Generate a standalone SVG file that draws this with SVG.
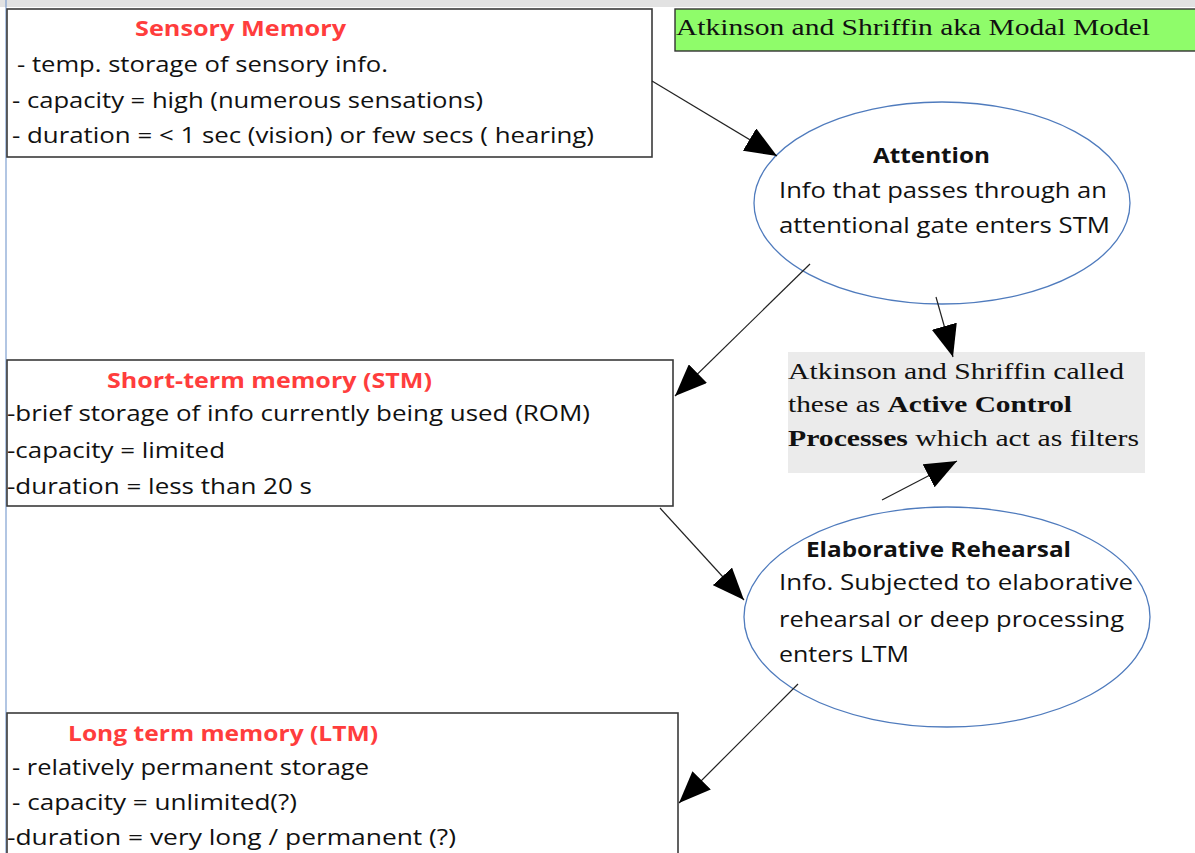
<svg xmlns="http://www.w3.org/2000/svg" width="1195" height="853" viewBox="0 0 1195 853">
<style>
.box{fill:#fff;stroke:#3a3a3a;stroke-width:1.6}
.ell{fill:#fff;stroke:#4f7bbd;stroke-width:1.3}
.t{font-family:"Open Sans","Liberation Sans",sans-serif;font-size:21px;fill:#111}
.h{font-family:"Open Sans","Liberation Sans",sans-serif;font-size:21px;font-weight:bold;fill:#ff3d3d}
.hb{font-family:"Open Sans","Liberation Sans",sans-serif;font-size:21px;font-weight:bold;fill:#111}
.s{font-family:"Liberation Serif",serif;font-size:24px;fill:#111}
.c{stroke:#222;stroke-width:1.2;fill:none}
</style>
<defs>
<marker id="ah" markerUnits="userSpaceOnUse" markerWidth="34" markerHeight="26" refX="32" refY="13" orient="auto">
<path d="M0,0 L32,13 L0,26 Z" fill="#000"/>
</marker>
</defs>
<rect x="0" y="0" width="1195" height="853" fill="#fff"/>
<rect x="0" y="0" width="1195" height="7" fill="#e2e2e2"/>
<line x1="6" y1="0" x2="6" y2="853" stroke="#7fa0d0" stroke-width="1.2"/>

<g id="sensory">
<rect class="box" x="7" y="9" width="645" height="148"/>
<text class="h" x="135" y="36" textLength="211" lengthAdjust="spacingAndGlyphs">Sensory Memory</text>
<text class="t" x="17" y="72" textLength="371" lengthAdjust="spacingAndGlyphs">- temp. storage of sensory info.</text>
<text class="t" x="12" y="108" textLength="471" lengthAdjust="spacingAndGlyphs">- capacity = high (numerous sensations)</text>
<text class="t" x="12" y="143" textLength="582" lengthAdjust="spacingAndGlyphs">- duration = &lt; 1 sec (vision) or few secs ( hearing)</text>
</g>

<g id="title">
<rect x="675" y="9" width="525" height="42" fill="#8ffc6a" stroke="#333" stroke-width="1.4"/>
<text class="s" x="676" y="35" textLength="474" lengthAdjust="spacingAndGlyphs">Atkinson and Shriffin aka Modal Model</text>
</g>

<g id="attention">
<ellipse class="ell" cx="942" cy="203" rx="188" ry="101"/>
<text class="hb" x="873" y="163" textLength="117" lengthAdjust="spacingAndGlyphs">Attention</text>
<text class="t" x="779" y="198" textLength="328" lengthAdjust="spacingAndGlyphs">Info that passes through an</text>
<text class="t" x="779" y="233" textLength="331" lengthAdjust="spacingAndGlyphs">attentional gate enters STM</text>
</g>

<g id="stm">
<rect class="box" x="7" y="360" width="666" height="146"/>
<text class="h" x="107" y="388" textLength="325" lengthAdjust="spacingAndGlyphs">Short-term memory (STM)</text>
<text class="t" x="7" y="421" textLength="583" lengthAdjust="spacingAndGlyphs">-brief storage of info currently being used (ROM)</text>
<text class="t" x="7" y="458" textLength="218" lengthAdjust="spacingAndGlyphs">-capacity = limited</text>
<text class="t" x="7" y="494" textLength="305" lengthAdjust="spacingAndGlyphs">-duration = less than 20 s</text>
</g>

<g id="acp">
<rect x="788" y="352" width="357" height="121" fill="#ebebeb"/>
<text class="s" x="788" y="379" textLength="336" lengthAdjust="spacingAndGlyphs">Atkinson and Shriffin called</text>
<text class="s" x="788" y="412" textLength="284" lengthAdjust="spacingAndGlyphs">these as <tspan font-weight="bold">Active Control</tspan></text>
<text class="s" x="788" y="446" textLength="351" lengthAdjust="spacingAndGlyphs"><tspan font-weight="bold">Processes</tspan> which act as filters</text>
</g>

<g id="elaborative">
<ellipse class="ell" cx="947" cy="617" rx="203" ry="110"/>
<text class="hb" x="806" y="557" textLength="265" lengthAdjust="spacingAndGlyphs">Elaborative Rehearsal</text>
<text class="t" x="779" y="590" textLength="354" lengthAdjust="spacingAndGlyphs">Info. Subjected to elaborative</text>
<text class="t" x="779" y="627" textLength="345" lengthAdjust="spacingAndGlyphs">rehearsal or deep processing</text>
<text class="t" x="779" y="662" textLength="130" lengthAdjust="spacingAndGlyphs">enters LTM</text>
</g>

<g id="ltm">
<rect class="box" x="7" y="713" width="671" height="150"/>
<text class="h" x="68" y="741" textLength="310" lengthAdjust="spacingAndGlyphs">Long term memory (LTM)</text>
<text class="t" x="12" y="775" textLength="357" lengthAdjust="spacingAndGlyphs">- relatively permanent storage</text>
<text class="t" x="12" y="810" textLength="285" lengthAdjust="spacingAndGlyphs">- capacity = unlimited(?)</text>
<text class="t" x="7" y="845" textLength="449" lengthAdjust="spacingAndGlyphs">-duration = very long / permanent (?)</text>
</g>

<g id="connectors">
<line class="c" x1="652" y1="81" x2="777" y2="156" marker-end="url(#ah)"/>
<line class="c" x1="810" y1="264" x2="675" y2="396" marker-end="url(#ah)"/>
<line class="c" x1="936" y1="297" x2="953" y2="357" marker-end="url(#ah)"/>
<line class="c" x1="882" y1="500" x2="957" y2="461" marker-end="url(#ah)"/>
<line class="c" x1="660" y1="508" x2="744" y2="600" marker-end="url(#ah)"/>
<line class="c" x1="798" y1="684" x2="679" y2="803" marker-end="url(#ah)"/>
</g>
</svg>
